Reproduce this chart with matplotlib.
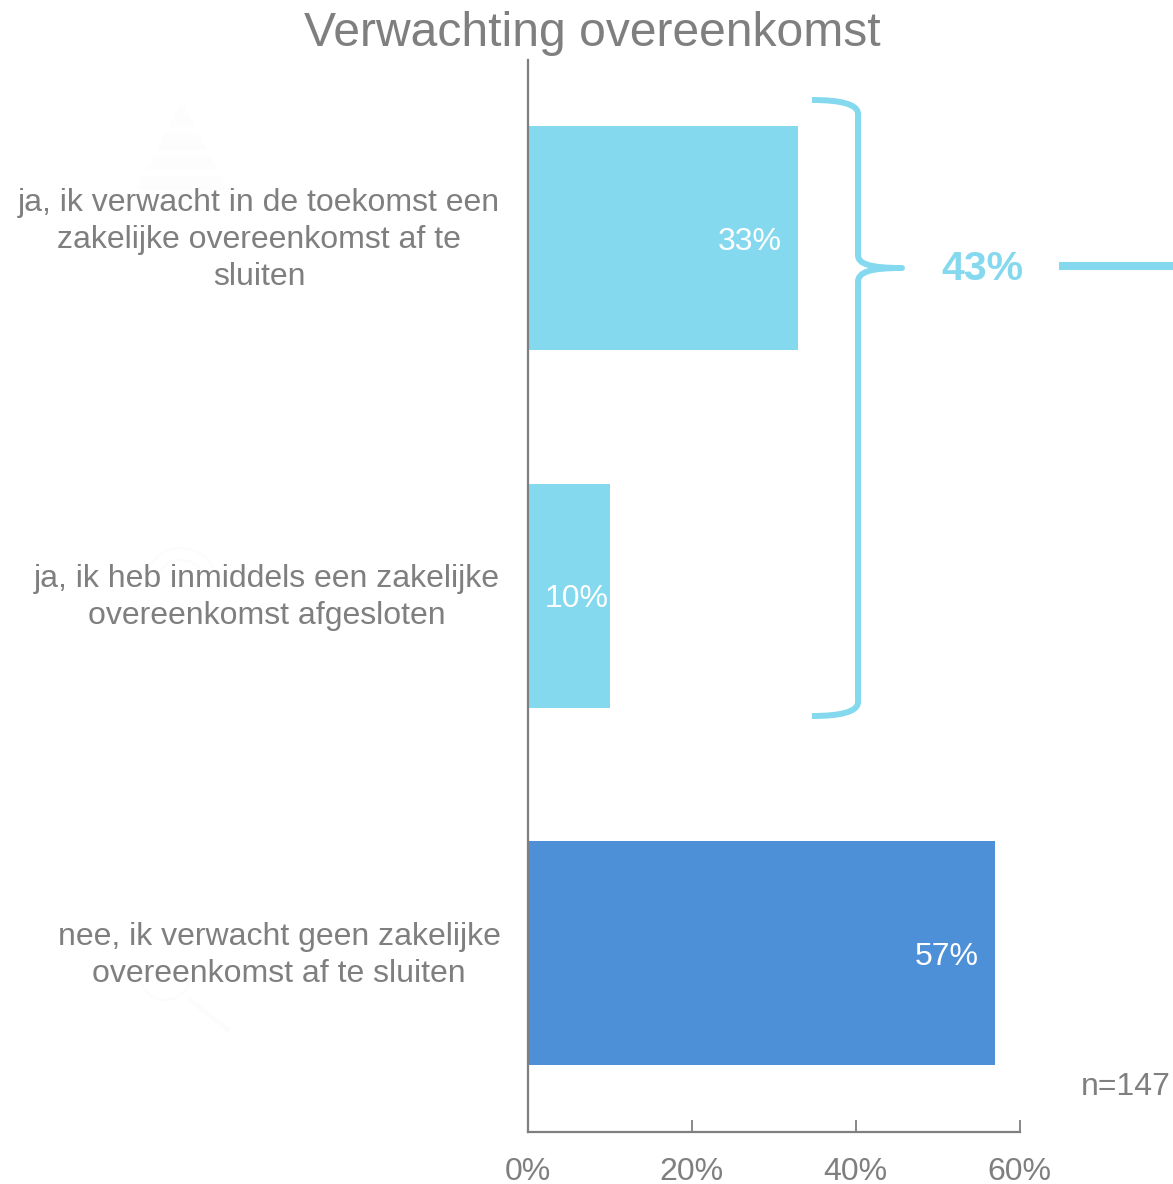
import numpy as np
import matplotlib
matplotlib.use('Agg')
import matplotlib.pyplot as plt
from matplotlib.patches import PathPatch, Polygon, Arc
from matplotlib.path import Path
from matplotlib.transforms import Affine2D

W, H = 1173, 1184

categories = [
    'ja, ik verwacht in de toekomst een\nzakelijke overeenkomst af te\nsluiten',
    'ja, ik heb inmiddels een zakelijke\novereenkomst afgesloten',
    'nee, ik verwacht geen zakelijke\novereenkomst af te sluiten',
]
values = [33, 10, 57]
bar_labels = ['33%', '10%', '57%']
xticks = [0, 20, 40, 60]
xtick_labels = ['0%', '20%', '40%', '60%']
title = 'Verwachting overeenkomst'
total_label = '43%'
n_label = 'n=147'

LIGHT = '#85D9EF'
DARK = '#4D90D7'
GREY = '#7F7F7F'
FAINT = '#FCFCFC'
plt.rcParams['font.family'] = ['Liberation Sans', 'DejaVu Sans']

fig = plt.figure(figsize=(W / 100, H / 100), dpi=100)
ax = fig.add_axes([528 / W, 1 - 1132 / H, (1019.5 - 528) / W, (1132 - 59.5) / H])
ax.patch.set_alpha(0)
# pixel coordinates measured from the top left of the picture
px = Affine2D().scale(1, -1).translate(0, H)

ax.barh(range(3), values, height=0.627, color=[LIGHT, LIGHT, DARK], zorder=2)
ax.set_xlim(0, 60)
ax.set_ylim(2.5, -0.5)
ax.set_xticks(xticks)
ax.set_xticklabels(xtick_labels, fontsize=23, color=GREY)
ax.tick_params(axis='x', direction='in', length=9, width=1.3, color=GREY, pad=18)
ax.set_yticks([])
for side in ['top', 'right']:
    ax.spines[side].set_visible(False)
for side in ['left', 'bottom']:
    ax.spines[side].set_color(GREY)
    ax.spines[side].set_linewidth(1.6)

# value labels, the 10% one does not fit with the same gap
label_gap = [2, 0.2, 2]
for i, (v, lab, gap) in enumerate(zip(values, bar_labels, label_gap)):
    ax.text(v - gap, i + 0.01, lab, ha='right', va='center', color='white', fontsize=23)

# category labels
label_x = [259, 267, 279]
label_y = [240, 597.5, 955.5]
for cat, x, y in zip(categories, label_x, label_y):
    fig.text(x, y, cat, transform=px, ha='center', va='center', color=GREY,
             fontsize=23, linespacing=1.3)

fig.text(592, 34, title, transform=px, ha='center', va='center', color=GREY, fontsize=34.6)
fig.text(1171, 1087, n_label, transform=px, ha='right', va='center', color=GREY, fontsize=23)
fig.text(982.5, 269, total_label, transform=px, ha='center', va='center', color=LIGHT,
         fontsize=29.5, fontweight='bold')

# curly bracket
verts = [(812, 100), (840, 100), (858, 104), (858, 114), (858, 255),
         (858, 264), (870, 268), (902, 268),
         (870, 268), (858, 272), (858, 282), (858, 702),
         (858, 712), (840, 716), (812, 716)]
codes = [Path.MOVETO, Path.CURVE4, Path.CURVE4, Path.CURVE4, Path.LINETO,
         Path.CURVE4, Path.CURVE4, Path.CURVE4,
         Path.CURVE4, Path.CURVE4, Path.CURVE4, Path.LINETO,
         Path.CURVE4, Path.CURVE4, Path.CURVE4]
fig.add_artist(PathPatch(Path(verts, codes), transform=px, fill=False, edgecolor=LIGHT,
                         linewidth=4.3, capstyle='butt', joinstyle='round'))
fig.add_artist(plt.Line2D([1059, 1173], [266, 266], transform=px, color=LIGHT,
                          linewidth=5.8, solid_capstyle='butt'))

# very faint icons behind the labels: pyramid, wifi arcs, magnifier
for top, bot in [(102, 127), (133, 150), (155, 170), (176, 190)]:
    ht, hb = (top - 102) * 0.52, (bot - 102) * 0.52
    fig.add_artist(Polygon([(182 - ht, top), (182 + ht, top), (182 + hb, bot), (182 - hb, bot)],
                           transform=px, facecolor='#FDFDFD', edgecolor='none', zorder=0))
for r in [36, 24]:
    fig.add_artist(Arc((181, 584), 2 * r, 2 * r, theta1=200, theta2=340, transform=px,
                       edgecolor=FAINT, linewidth=1.5, zorder=0))
fig.add_artist(Arc((165, 975), 50, 50, theta1=0, theta2=180, transform=px,
                   edgecolor=FAINT, linewidth=1.5, zorder=0))
fig.add_artist(plt.Line2D([190, 228], [1000, 1030], transform=px, color=FAINT,
                          linewidth=3, zorder=0))

fig.savefig('out.png', dpi=100)
